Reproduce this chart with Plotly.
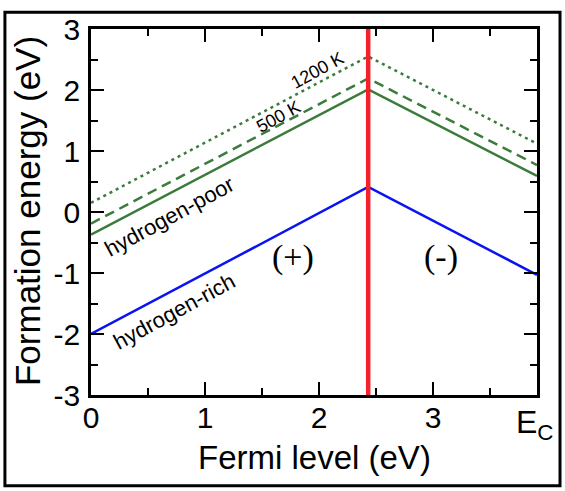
import plotly.graph_objs as go

# Fermi level break points (eV): valence band edge, transition level, E_C
fermi = [0, 2.43, 3.91]
transition_level = 2.43

# formation energies (eV) at the break points
h_rich = [-2.0, 0.41, -1.03]
h_poor = [-0.37, 2.01, 0.59]
h_poor_500K = [-0.19, 2.19, 0.77]
h_poor_1200K = [0.15, 2.55, 1.12]

x_ticks = [0, 1, 2, 3]
y_ticks = [-3, -2, -1, 0, 1, 2, 3]
y_ticktext = [str(v) for v in y_ticks]  # plain hyphen minus like the original

green = '#3b7b3b'
blue = '#0a14f0'
red = '#f5202a'

traces = []
traces.append(go.Scatter(x=fermi, y=h_poor_1200K, mode='lines',
                         line=dict(color=green, width=2.5, dash='3px,4px'), name='1200 K'))
traces.append(go.Scatter(x=fermi, y=h_poor_500K, mode='lines',
                         line=dict(color=green, width=2.5, dash='10px,6px'), name='500 K'))
traces.append(go.Scatter(x=fermi, y=h_poor, mode='lines',
                         line=dict(color=green, width=2.5), name='hydrogen-poor'))
traces.append(go.Scatter(x=fermi, y=h_rich, mode='lines',
                         line=dict(color=blue, width=2.5), name='hydrogen-rich'))
traces.append(go.Scatter(x=[transition_level, transition_level], y=[-3, 3], mode='lines',
                         line=dict(color=red, width=4.5), name='transition'))

font = 'Liberation Sans, Arial, sans-serif'
serif = 'Liberation Serif, Times New Roman, serif'
axis_common = dict(showgrid=False, zeroline=False, showline=True, linecolor='black',
                   linewidth=2.5, mirror='ticks', ticks='inside', ticklen=13,
                   tickwidth=2, tickcolor='black', ticklabeloverflow='allow',
                   tickfont=dict(family=font, size=30, color='black'))
minor = dict(dtick=0.5, ticks='inside', ticklen=7, tickwidth=2, tickcolor='black')

layout = go.Layout(
    width=565, height=491,
    margin=dict(l=91, r=28, t=24, b=96),
    paper_bgcolor='white', plot_bgcolor='white',
    showlegend=False,
    xaxis=dict(range=[0, 3.91], tickvals=x_ticks, ticklabelstandoff=-6,
               minor=minor, **axis_common),
    yaxis=dict(range=[-3, 3], tickvals=y_ticks, ticktext=y_ticktext, ticklabelstandoff=2,
               minor=minor, **axis_common),
    shapes=[dict(type='rect', xref='paper', yref='paper', x0=-0.193, x1=1.0516,
                 y0=-0.248, y1=1.0458, line=dict(color='black', width=3))],
)

ann = []
ann.append(dict(text='Fermi level (eV)', xref='paper', yref='paper', x=0.5, y=-0.17,
                xanchor='center', yanchor='middle', showarrow=False,
                font=dict(family=font, size=33, color='black')))
ann.append(dict(text='Formation energy (eV)', xref='paper', yref='paper', x=-0.141, y=0.503,
                xanchor='center', yanchor='middle', textangle=-90, showarrow=False,
                font=dict(family=font, size=35, color='black')))
ann.append(dict(text='E<sub>C</sub>', xref='paper', yref='paper', x=0.996, y=-0.081,
                xanchor='center', yanchor='middle', showarrow=False,
                font=dict(family=font, size=32, color='black')))
ann.append(dict(text='hydrogen-poor', x=0.69, y=-0.08, textangle=-28.5, showarrow=False,
                font=dict(family=font, size=22, color='black')))
ann.append(dict(text='hydrogen-rich', x=0.73, y=-1.63, textangle=-28.5, showarrow=False,
                font=dict(family=font, size=22, color='black')))
ann.append(dict(text='500 K', x=1.64, y=1.56, textangle=-28.5, showarrow=False,
                font=dict(family=font, size=18, color='black')))
ann.append(dict(text='1200 K', x=1.99, y=2.32, textangle=-28.5, showarrow=False,
                font=dict(family=font, size=18, color='black')))
ann.append(dict(text='(+)', x=1.77, y=-0.74, showarrow=False,
                font=dict(family=serif, size=34, color='black')))
ann.append(dict(text='(-)', x=3.07, y=-0.74, showarrow=False,
                font=dict(family=serif, size=34, color='black')))
layout.annotations = ann

fig = go.Figure(data=traces, layout=layout)
# drop the default 8px body margin so the figure fills the window exactly
fig.write_html('out.html', config={'displayModeBar': False},
               post_script="document.body.style.margin='0px';")
